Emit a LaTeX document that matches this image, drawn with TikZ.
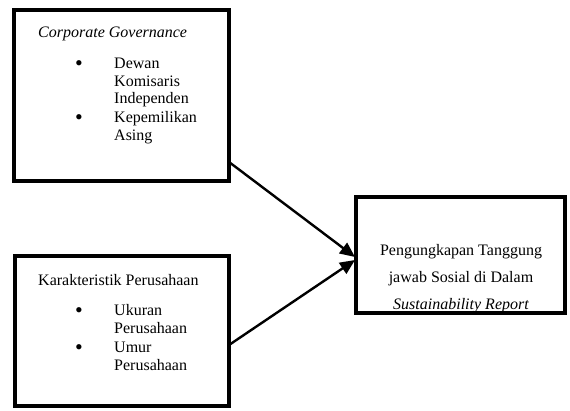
\documentclass[tikz,border=0pt]{standalone}
\usepackage{fontspec}
\setmainfont{Liberation Serif}
\usetikzlibrary{arrows.meta}
\begin{document}
\begin{tikzpicture}[x=1pt,y=-1pt,
  box/.style={draw=black,line width=4pt,outer sep=0pt,inner sep=0pt,anchor=north west},
  txt/.style={font=\fontsize{16}{18}\selectfont,inner sep=0pt,anchor=base west},
  ctxt/.style={font=\fontsize{16}{18}\selectfont,inner sep=0pt,anchor=base},
  bul/.style={font=\fontsize{22}{18}\selectfont,inner sep=0pt,anchor=base},
  conn/.style={line width=2.4pt,-{Triangle[length=15pt,width=13pt]}}]
\useasboundingbox (0,0) rectangle (570,410);
% boxes
\node[box,minimum width=215pt,minimum height=171pt] (cg) at (14,10) {};
\node[box,minimum width=214pt,minimum height=150pt] (kp) at (15,256) {};
\node[box,minimum width=209pt,minimum height=116pt] (ps) at (356,197) {};
% top box text
\node[txt] (cgt) at (38,37) {\itshape Corporate Governance};
\node[bul] (b1) at (79,70) {\textbullet};
\node[txt] (l1) at (114,68) {Dewan};
\node[txt] (l2) at (114,86) {Komisaris};
\node[txt] (l3) at (114,103) {Independen};
\node[bul] (b2) at (79,124) {\textbullet};
\node[txt] (l4) at (114,122) {Kepemilikan};
\node[txt] (l5) at (114,140) {Asing};
% bottom box text
\node[txt] (kpt) at (38,285) {Karakteristik Perusahaan};
\node[bul] (b3) at (79,317) {\textbullet};
\node[txt] (m1) at (114,315) {Ukuran};
\node[txt] (m2) at (114,333) {Perusahaan};
\node[bul] (b4) at (79,354) {\textbullet};
\node[txt] (m3) at (114,352) {Umur};
\node[txt] (m4) at (114,370) {Perusahaan};
% right box text
\node[ctxt] (r1) at (461,255) {Pengungkapan Tanggung};
\node[ctxt] (r2) at (461,282) {jawab Sosial di Dalam};
\node[ctxt] (r3) at (461,309) {\itshape Sustainability Report};
% connectors
\coordinate (s1) at (229,162);
\coordinate (s2) at (229,345);
\coordinate (e1) at (355,257);
\coordinate (e2) at (355,260);
\draw[conn] (s1) -- (e1);
\draw[conn] (s2) -- (e2);
\end{tikzpicture}
\end{document}
